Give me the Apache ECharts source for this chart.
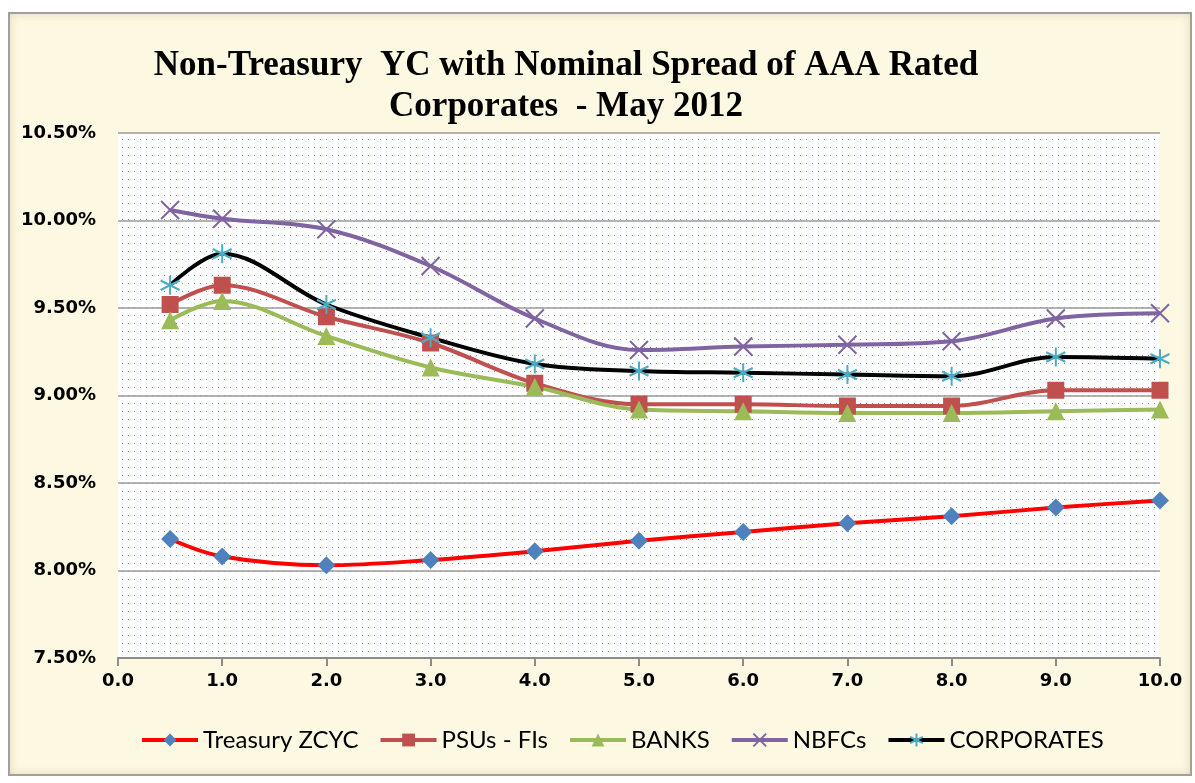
<!DOCTYPE html>
<html>
<head>
<meta charset="utf-8">
<script src="https://cdn.jsdelivr.net/npm/echarts@6/dist/echarts.min.js"></script>
<style>
    html, body {
        margin: 0;
        padding: 0;
        background: #ffffff;
    }
    .chart-box {
        position: absolute;
        left: 8px;
        top: 12px;
        width: 1180px;
        height: 760px;
        border: 2px solid #a0a0a0;
        background: #fcf8e2;
        box-shadow: inset 0 0 8px rgba(180, 160, 100, 0.35);
    }
    #main {
        position: absolute;
        left: 0;
        top: 0;
        width: 1195px;
        height: 783px;
    }
</style>
</head>
<body>
<div class="chart-box"></div>
<div id="main"></div>
<script>
// tenor in years
const tenors = [0.5, 1, 2, 3, 4, 5, 6, 7, 8, 9, 10]
const xTicks = ['0.0', '1.0', '2.0', '3.0', '4.0', '5.0', '6.0', '7.0', '8.0', '9.0', '10.0']

const treasury = [8.18, 8.08, 8.03, 8.06, 8.11, 8.17, 8.22, 8.27, 8.31, 8.36, 8.40]
const psus = [9.52, 9.63, 9.45, 9.30, 9.07, 8.95, 8.95, 8.94, 8.94, 9.03, 9.03]
const banks = [9.43, 9.54, 9.34, 9.16, 9.05, 8.92, 8.91, 8.90, 8.90, 8.91, 8.92]
const nbfcs = [10.06, 10.01, 9.95, 9.74, 9.44, 9.26, 9.28, 9.29, 9.31, 9.44, 9.47]
const corporates = [9.63, 9.81, 9.52, 9.33, 9.18, 9.14, 9.13, 9.12, 9.11, 9.22, 9.21]

const seriesNames = ['Treasury ZCYC', 'PSUs - FIs', 'BANKS', 'NBFCs', 'CORPORATES']

// dotted fill of the plot area
const dots = document.createElement('canvas')
dots.width = 6
dots.height = 8
const dctx = dots.getContext('2d')
dctx.fillStyle = '#ffffff'
dctx.fillRect(0, 0, 6, 8)
dctx.fillStyle = '#5f93dc'
dctx.fillRect(2, 3, 1, 1)

const pairs = (ys) => tenors.map((t, i) => [t, ys[i]])

const crossPath = 'path://M0,0L10,10M0,10L10,0'
const starPath = 'path://M5,0L5,10M0.7,2.5L9.3,7.5M0.7,7.5L9.3,2.5'

const mkSeries = (name, data, lineColor, symbol, symColor, size, stroke) => ({
    name: name,
    type: 'line',
    smooth: 0.35,
    data: pairs(data),
    symbol: symbol,
    symbolSize: size,
    showAllSymbol: true,
    lineStyle: {color: lineColor, width: 4},
    itemStyle: stroke
        ? {color: symColor, borderColor: symColor, borderWidth: 2}
        : {color: symColor, borderWidth: 0},
    z: 3,
})

const option = {
    animation: false,
    backgroundColor: 'transparent',
    title: {
        text: 'Non-Treasury  YC with Nominal Spread of AAA Rated\nCorporates  - May 2012',
        left: 561,
        top: 40,
        textAlign: 'center',
        textStyle: {
            fontFamily: 'Liberation Serif',
            fontWeight: 'bold',
            fontSize: 35,
            lineHeight: 41,
            color: '#000',
        },
    },
    grid: {
        left: 118,
        right: 35,
        top: 133,
        bottom: 125,
        show: true,
        borderWidth: 0,
        backgroundColor: {image: dots, repeat: 'repeat'},
    },
    legend: {
        bottom: 26,
        left: 135,
        itemWidth: 56,
        itemHeight: 16,
        itemGap: 20,
        lineStyle: {width: 4},
        textStyle: {
            fontFamily: 'Lato',
            fontSize: 24,
            color: '#000',
        },
        data: seriesNames,
    },
    xAxis: {
        type: 'value',
        min: 0,
        max: 10,
        interval: 1,
        axisLine: {show: true, lineStyle: {color: '#8c8c8c', width: 2}},
        axisTick: {show: true, length: 8, lineStyle: {color: '#8c8c8c', width: 2}},
        splitLine: {show: false},
        axisLabel: {
            margin: 14,
            fontFamily: 'DejaVu Sans',
            fontWeight: 'bold',
            fontSize: 18,
            color: '#000',
            formatter: (v) => xTicks[Math.round(v)],
        },
    },
    yAxis: {
        type: 'value',
        min: 7.5,
        max: 10.5,
        interval: 0.5,
        axisLine: {show: false},
        axisTick: {show: false},
        splitLine: {lineStyle: {color: '#9a9a9a', width: 1.5}},
        axisLabel: {
            margin: 22,
            fontFamily: 'DejaVu Sans',
            fontWeight: 'bold',
            fontSize: 18,
            color: '#000',
            formatter: (v) => v.toFixed(2) + '%',
        },
    },
    series: [
        mkSeries(seriesNames[0], treasury, '#ff0000', 'diamond', '#4f81bd', 18, false),
        mkSeries(seriesNames[1], psus, '#c0504d', 'rect', '#c0504d', 17, false),
        mkSeries(seriesNames[2], banks, '#9bbb59', 'triangle', '#9bbb59', 18, false),
        mkSeries(seriesNames[3], nbfcs, '#8064a2', crossPath, '#8064a2', 18, true),
        mkSeries(seriesNames[4], corporates, '#000000', starPath, '#4bacc6', 19, true),
    ],
}

const myChart = echarts.init(document.getElementById('main'))
myChart.setOption(option)
</script>
</body>
</html>
